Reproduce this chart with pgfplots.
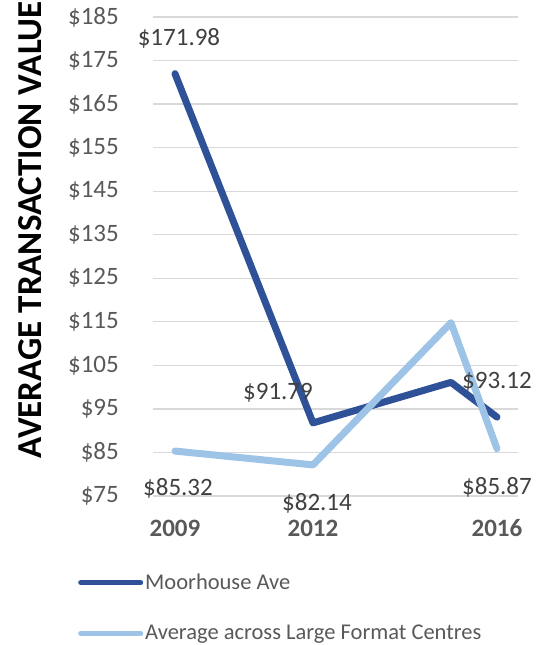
\documentclass[border=0pt]{standalone}
\usepackage{fontspec}
\setmainfont{Carlito}
\usepackage{pgfplots}
\usepackage{pgfplotstable}
\pgfplotsset{compat=1.18}
\definecolor{darkblue}{HTML}{2F5197}
\definecolor{lightblue}{HTML}{9DC3E6}
\definecolor{tickgray}{HTML}{595959}
\definecolor{labgray}{HTML}{404040}
\definecolor{gridgray}{HTML}{D9D9D9}

\pgfplotstableread{
x y
2009 171.98
2012 91.79
2015 101.1
2016 93.12
}\moorhouse
\pgfplotstableread{
x y
2009 85.32
2012 82.14
2015 114.8
2016 85.87
}\largeformat
\pgfplotstableread{
x y dx dy
2009 171.98 4 35
2012 91.79 -35 30
2016 93.12 0 35
2009 85.32 3 -37
2012 82.14 4 -38
2016 85.87 0 -39
}\labels

\begin{document}
\begin{tikzpicture}[x=1pt,y=1pt]
\useasboundingbox (0,0) rectangle (552,645);
\begin{axis}[
 at={(153pt,149pt)}, anchor=south west,
 scale only axis, width=365pt, height=479pt,
 xmin=2008.522, xmax=2016.457, ymin=75, ymax=185,
 axis line style={draw=none},
 major tick length=0pt,
 ytick={75,85,...,185},
 yticklabel={\$\pgfmathprintnumber{\tick}},
 /pgf/number format/assume math mode=true,
 yticklabel style={font=\fontsize{25}{30}\selectfont, color=tickgray, inner sep=0pt, anchor=east, xshift=-34pt},
 xtick={2009,2012,2016}, xticklabels={2009,2012,2016},
 xticklabel style={font=\fontsize{25}{30}\selectfont\bfseries, color=tickgray, inner sep=0pt, anchor=center, yshift=-32pt},
 ymajorgrids, major grid style={gridgray, line width=1.3pt},
 ylabel={AVERAGE TRANSACTION VALUE},
 ylabel style={at={(axis description cs:-0.337,0.556)}, anchor=center, font=\fontsize{35}{40}\selectfont\bfseries, color=black},
 legend style={at={(axis description cs:0,0)}, anchor=north west, xshift=-75pt, yshift=-76pt, draw=none, fill=none,
   font=\fontsize{22.5}{27}\selectfont, text=tickgray, row sep=30pt, inner sep=0pt},
 legend cell align=left,
 legend image code/.code={\draw[#1, line width=5pt, line cap=round] (0pt,0pt) -- (60pt,0pt);},
]
\addplot[darkblue, line width=7pt, line cap=round, line join=round] table[x=x,y=y] {\moorhouse};
\addlegendentry{Moorhouse Ave}
\addplot[lightblue, line width=7pt, line cap=round, line join=round] table[x=x,y=y] {\largeformat};
\addlegendentry{Average across Large Format Centres}
\addplot[draw=none, mark=none, forget plot,
  nodes near coords={\$\pgfplotspointmeta},
  point meta=explicit symbolic,
  visualization depends on={\thisrow{dx} \as \dx},
  visualization depends on={\thisrow{dy} \as \dy},
  nodes near coords style={anchor=center, xshift=\dx pt, yshift=\dy pt, font=\fontsize{25}{30}\selectfont, text=labgray, inner sep=0pt}]
  table[x=x,y=y,meta=y] {\labels};
\end{axis}
\end{tikzpicture}
\end{document}
